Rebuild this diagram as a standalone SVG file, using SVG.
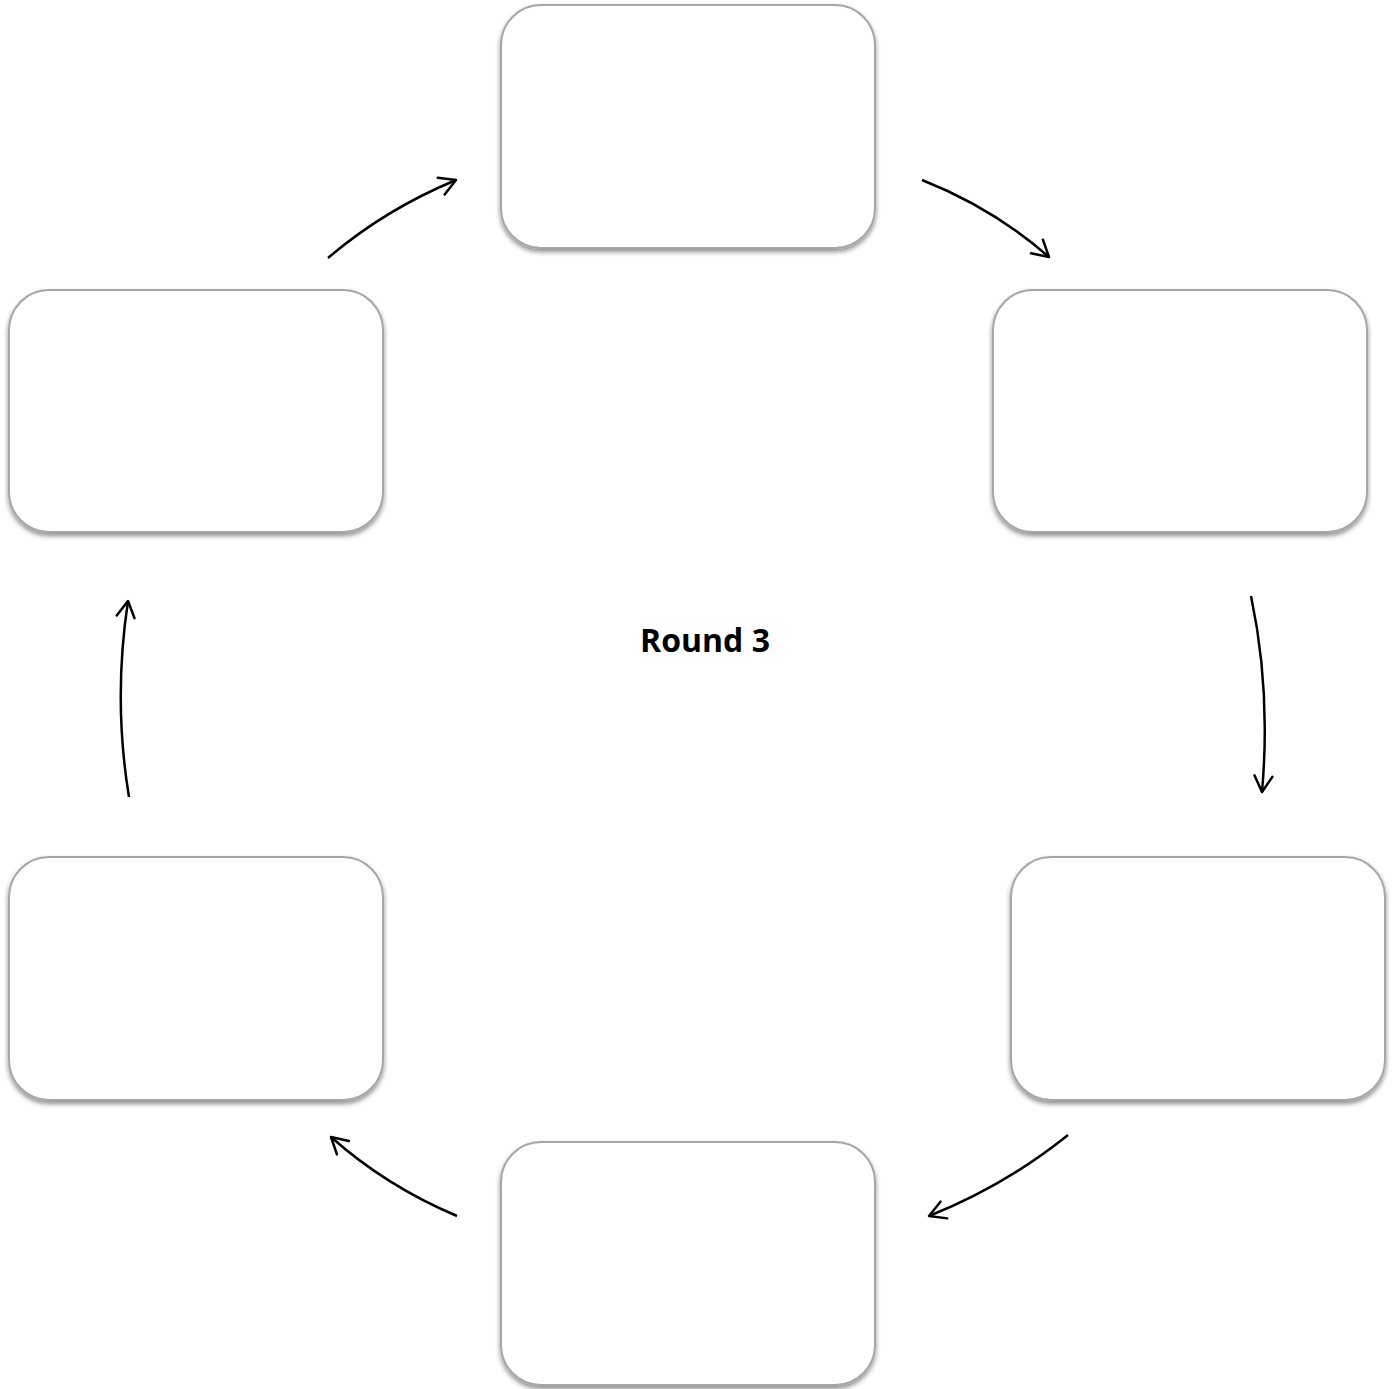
<svg xmlns="http://www.w3.org/2000/svg" width="1396" height="1389" viewBox="0 0 1396 1389">
<defs>
<filter id="sh" x="-10%" y="-10%" width="120%" height="125%">
<feGaussianBlur in="SourceAlpha" stdDeviation="2.5"/>
<feOffset dx="0" dy="3" result="b"/>
<feComponentTransfer><feFuncA type="linear" slope="0.45"/></feComponentTransfer>
<feMerge><feMergeNode/><feMergeNode in="SourceGraphic"/></feMerge>
</filter>
<marker id="ah" viewBox="0 0 22 22" refX="20" refY="11" markerWidth="22" markerHeight="22" markerUnits="userSpaceOnUse" orient="auto">
<path d="M4,2 L20,11 L4,20" fill="none" stroke="#000" stroke-width="2.5" stroke-linecap="round" stroke-linejoin="round"/>
</marker>
</defs>
<style>
.box{fill:#fff;stroke:#a6a6a6;stroke-width:2;filter:url(#sh)}
.con{fill:none;stroke:#000;stroke-width:2.5;marker-end:url(#ah)}
.lbl{font-family:"Open Sans","Liberation Sans",sans-serif;font-weight:bold;font-size:32px;fill:#000}
</style>
<rect width="1396" height="1389" fill="#fff"/>
<g id="node-top"><rect class="box" x="501" y="5" width="374" height="243" rx="40"/></g>
<g id="node-right-upper"><rect class="box" x="993" y="290" width="374" height="242" rx="40"/></g>
<g id="node-right-lower"><rect class="box" x="1011" y="857" width="374" height="243" rx="40"/></g>
<g id="node-bottom"><rect class="box" x="501" y="1142" width="374" height="243" rx="40"/></g>
<g id="node-left-lower"><rect class="box" x="9" y="857" width="374" height="243" rx="40"/></g>
<g id="node-left-upper"><rect class="box" x="9" y="290" width="374" height="242" rx="40"/></g>
<g id="connectors">
<path class="con" d="M922,180 Q993,208 1049,257"/>
<path class="con" d="M1251,596 Q1271,690 1262,792"/>
<path class="con" d="M1068,1135 Q1006,1185 929,1216"/>
<path class="con" d="M457,1216 Q386,1186 331,1137"/>
<path class="con" d="M129,797 Q113,700 128,601"/>
<path class="con" d="M328,258 Q384,210 456,180"/>
</g>
<g id="center-label"><text class="lbl" x="705" y="652" text-anchor="middle">Round 3</text></g>
</svg>
